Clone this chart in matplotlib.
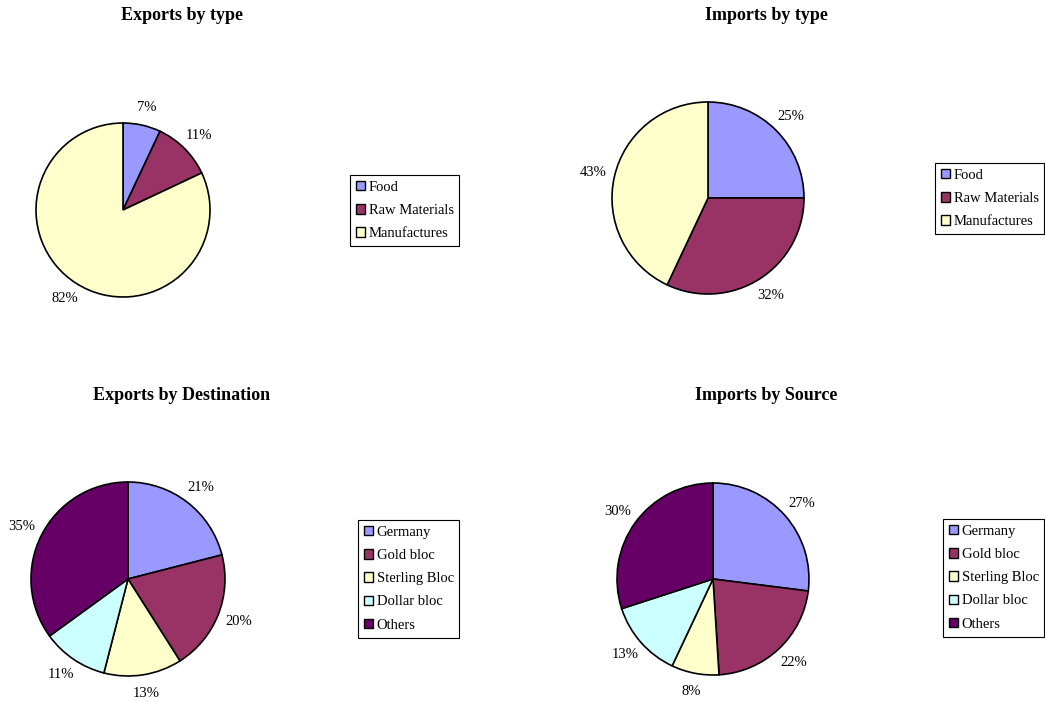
import numpy as np
import matplotlib.pyplot as plt

plt.rcParams['font.family'] = ['Liberation Serif', 'DejaVu Serif']

W, H = 1045, 702

# trade breakdowns, in percent
type_labels = ["Food", "Raw Materials", "Manufactures"]
exports_by_type = [7, 11, 82]
imports_by_type = [25, 32, 43]

bloc_labels = ["Germany", "Gold bloc", "Sterling Bloc", "Dollar bloc", "Others"]
exports_by_dest = [21, 20, 13, 11, 35]
imports_by_source = [27, 22, 8, 13, 30]

type_colors = ["#9999FF", "#993366", "#FFFFCC"]
bloc_colors = ["#9999FF", "#993366", "#FFFFCC", "#CCFFFF", "#660066"]

# (title, values, labels, colors, pie centre x, y, radius, title x, y, legend x, y) in pixels
panels = [
    ("Exports by type", exports_by_type, type_labels, type_colors,
     123, 210, 87, 182, 15, 350, 175),
    ("Imports by type", imports_by_type, type_labels, type_colors,
     708, 198, 96, 766, 15, 935, 163),
    ("Exports by Destination", exports_by_dest, bloc_labels, bloc_colors,
     128, 579, 97, 182, 396, 358, 520),
    ("Imports by Source", imports_by_source, bloc_labels, bloc_colors,
     713, 579, 96, 766, 396, 943, 519),
]

fig = plt.figure(figsize=(W / 100, H / 100), dpi=100)

for title, vals, labels, colors, cx, cy, r, tx, ty, lx, ly in panels:
    ax = fig.add_axes([(cx - r) / W, (H - cy - r) / H, 2 * r / W, 2 * r / H])
    wedges, _ = ax.pie(
        vals, colors=colors, startangle=90, counterclock=False,
        wedgeprops=dict(edgecolor="black", linewidth=1.2),
    )
    # percentage labels just outside the rim, pushed out by half the text box
    for w, v in zip(wedges, vals):
        a = np.deg2rad((w.theta1 + w.theta2) / 2)
        ax.annotate(f"{v}%", xy=(1.11 * np.cos(a), 1.11 * np.sin(a)),
                    xytext=(8 * np.cos(a), 6 * np.sin(a)),
                    textcoords="offset points", ha="center", va="center",
                    fontsize=10.5, annotation_clip=False)
    ax.set_xlim(-1, 1)
    ax.set_ylim(-1, 1)
    ax.set_aspect("equal")

    fig.text(tx / W, 1 - ty / H, title, ha="center", va="center",
             fontsize=13, fontweight="bold")

    leg = fig.legend(
        wedges, labels, loc="upper left",
        bbox_to_anchor=(lx / W, 1 - ly / H), borderaxespad=0,
        fontsize=10.5, fancybox=False, shadow=False, framealpha=1,
        edgecolor="black", borderpad=0.4, labelspacing=0.7,
        handlelength=0.62, handleheight=0.62, handletextpad=0.25,
    )
    leg.get_frame().set_linewidth(0.8)
    for h in leg.legend_handles:
        h.set_linewidth(1.0)

fig.savefig("out.png", dpi=100)
